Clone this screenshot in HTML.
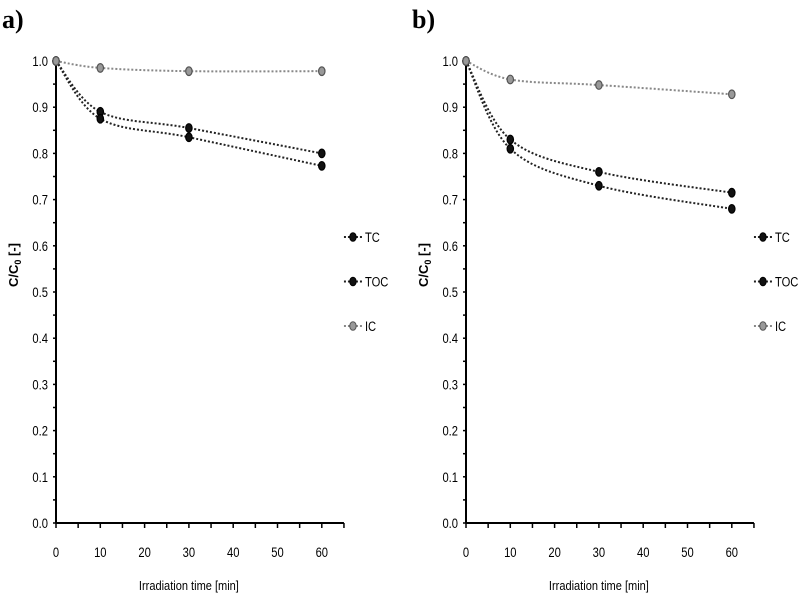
<!DOCTYPE html>
<html><head><meta charset="utf-8"><style>
body{margin:0;background:#fff;}
svg{display:block;font-family:"Liberation Sans Narrow","Liberation Sans",sans-serif;}
</style></head><body>
<svg id="chart" width="800" height="600" viewBox="0 0 800 600"></svg>
<script>
const timesMin = [0, 10, 30, 60];
const xTicks = [0, 10, 20, 30, 40, 50, 60];
const yTicks = [0, 0.1, 0.2, 0.3, 0.4, 0.5, 0.6, 0.7, 0.8, 0.9, 1.0];
const seriesNames = ["TC", "TOC", "IC"];
const aTC = [1.0, 0.89, 0.855, 0.80];
const aTOC = [1.0, 0.875, 0.835, 0.773];
const aIC = [1.0, 0.985, 0.978, 0.978];
const bTC = [1.0, 0.83, 0.76, 0.715];
const bTOC = [1.0, 0.81, 0.73, 0.68];
const bIC = [1.0, 0.96, 0.948, 0.928];

const NS = "http://www.w3.org/2000/svg";
const svg = document.getElementById("chart");
function mk(tag, attrs, parent) {
  const e = document.createElementNS(NS, tag);
  for (const k in attrs) e.setAttribute(k, attrs[k]);
  (parent || svg).appendChild(e);
  return e;
}
function smoothPath(p) {
  let d = "M" + p[0][0] + "," + p[0][1];
  for (let i = 0; i < p.length - 1; i++) {
    const p0 = p[Math.max(0, i - 1)], p1 = p[i], p2 = p[i + 1], p3 = p[Math.min(p.length - 1, i + 2)];
    const t = 0.5 / 3;
    const c1 = [p1[0] + (p2[0] - p0[0]) * t, p1[1] + (p2[1] - p0[1]) * t];
    const c2 = [p2[0] - (p3[0] - p1[0]) * t, p2[1] - (p3[1] - p1[1]) * t];
    d += " C" + c1.join(",") + " " + c2.join(",") + " " + p2.join(",");
  }
  return d;
}
const colors = {TC: "#222", TOC: "#222", IC: "#888"};

function panel(id, label, x0, labelX, dataTC, dataTOC, dataIC) {
  const g = mk("g", {});
  
  
  const xs = v => x0 + v * 4.43;
  const ys = v => 523 - v * 462;
  const t = mk("text", {x: labelX, y: 28, "font-size": 26, "font-weight": "bold", "font-family": "Liberation Serif, serif"}, g);
  t.textContent = label;
  
  
  const ax = mk("line", {x1: xs(0), y1: ys(0), x2: xs(65), y2: ys(0), stroke: "#000", "stroke-width": 2}, g);
  
  
  const ay = mk("line", {x1: xs(0), y1: ys(0), x2: xs(0), y2: ys(1.0), stroke: "#000", "stroke-width": 2}, g);
  
  
  for (let v = 0; v <= 65; v += 5) mk("line", {x1: xs(v), y1: ys(0), x2: xs(v), y2: ys(0) + 5, stroke: "#000", "stroke-width": 1.5}, g);
  xTicks.forEach(v => {
    const tx = mk("text", {x: xs(v), y: 557, "font-size": 14, "text-anchor": "middle", transform: `translate(${xs(v)},0) scale(0.8,1) translate(${-xs(v)},0)`}, g);
    tx.textContent = v;
    
    
  });
  for (let i = 0; i <= 20; i++) mk("line", {x1: xs(0) - 3, y1: ys(i * 0.05), x2: xs(0), y2: ys(i * 0.05), stroke: "#000", "stroke-width": 1.5}, g);
  yTicks.forEach(v => {
    const ty = mk("text", {x: xs(0) - 8, y: ys(v) + 5, "font-size": 14, "text-anchor": "end", transform: `translate(${xs(0) - 8},0) scale(0.8,1) translate(${-(xs(0) - 8)},0)`}, g);
    ty.textContent = v.toFixed(1);
    
    
  });
  const xt = mk("text", {x: xs(30), y: 590, "font-size": 13, "text-anchor": "middle", transform: `translate(${xs(30)},0) scale(0.85,1) translate(${-xs(30)},0)`}, g);
  xt.textContent = "Irradiation time [min]";
  
  
  const yt = mk("text", {transform: `translate(${xs(0) - 38},265) rotate(-90)`, "font-size": 13, "text-anchor": "middle", "font-weight": "bold"}, g);
  yt.innerHTML = 'C/C<tspan font-size="9" dy="3">0</tspan><tspan dy="-3"> [-]</tspan>';
  
  
  const all = {TC: dataTC, TOC: dataTOC, IC: dataIC};
  seriesNames.forEach((n, si) => {
    const d = all[n];
    const pts = timesMin.map((tm, i) => [xs(tm), ys(d[i])]);
    const pl = mk("path", {d: smoothPath(pts), fill: "none", stroke: colors[n], "stroke-width": 2, "stroke-dasharray": "2,2"}, g);
    
    
    timesMin.forEach((tm, i) => {
      const c = mk("ellipse", {cx: xs(tm), cy: ys(d[i]), rx: 3.2, ry: 4.3, fill: n === "IC" ? "#999" : "#111", stroke: n === "IC" ? "#555" : "#000", "stroke-width": 1.2}, g);
      
      
    });
    const ly = 237 + si * 44.5;
    const lx = xs(65) + 9;
    const lg = mk("g", {}, g);
    
    
    mk("line", {x1: lx - 9, y1: ly, x2: lx + 9, y2: ly, stroke: colors[n], "stroke-width": 2, "stroke-dasharray": "2,2"}, lg);
    mk("ellipse", {cx: lx, cy: ly, rx: 3.2, ry: 4.3, fill: n === "IC" ? "#999" : "#111", stroke: n === "IC" ? "#555" : "#000"}, lg);
    const lt = mk("text", {x: lx + 12, y: ly + 5, "font-size": 14, transform: `translate(${lx + 12},0) scale(0.8,1) translate(${-(lx + 12)},0)`}, lg);
    lt.textContent = n;
  });
}
panel("a", "a)", 56, 2, aTC, aTOC, aIC);
panel("b", "b)", 466, 412, bTC, bTOC, bIC);
</script>
</body></html>
